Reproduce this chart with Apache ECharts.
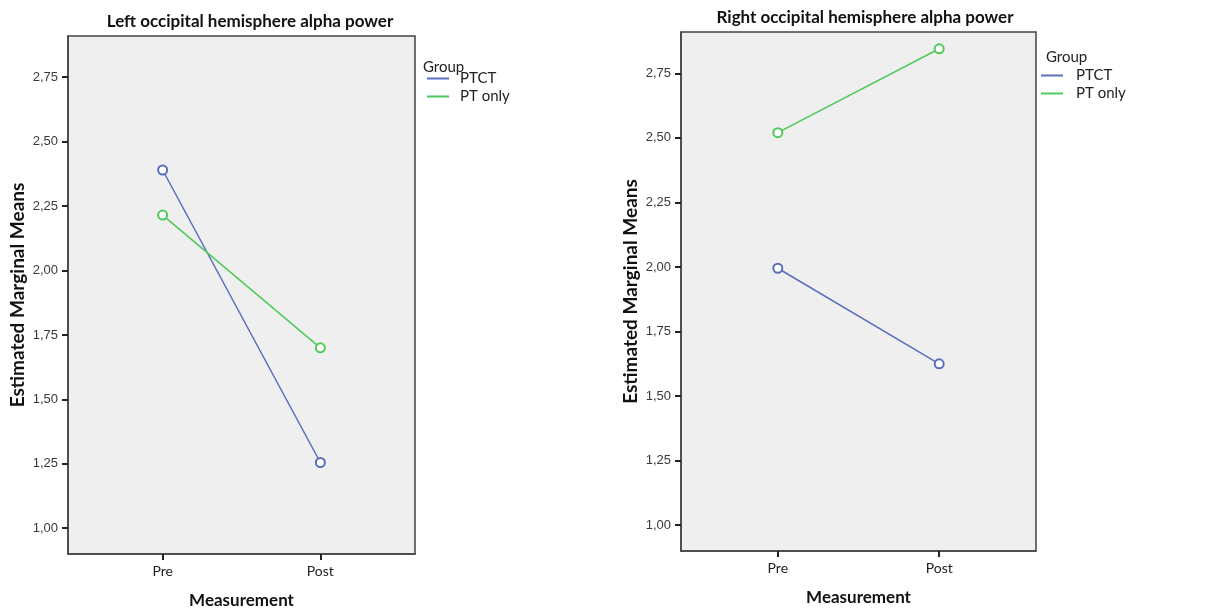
<!DOCTYPE html>
<html>
<head>
<meta charset="utf-8">
<script src="https://cdn.jsdelivr.net/npm/echarts@6/dist/echarts.min.js"></script>
<style>
  html, body { margin: 0; padding: 0; background: #fff; }
  #chart { width: 1218px; height: 614px; }
</style>
</head>
<body>
<div id="chart"></div>
<script>
const categories = ['Pre', 'Post']
const groups = ['PTCT', 'PT only']
const leftPTCT = [2.39, 1.255]
const leftPTonly = [2.215, 1.70]
const rightPTCT = [1.995, 1.625]
const rightPTonly = [2.52, 2.845]
const yTicks = [1.0, 1.25, 1.5, 1.75, 2.0, 2.25, 2.5, 2.75]

const blue = '#5a6dbf'
const green = '#4fc95a'
const titleFont = 'Lato'
const tickFont = 'Liberation Sans'

const toPoints = (vals) => categories.map((c, i) => [i, vals[i]])

function xAxis(gridIndex, nameGap) {
  return {
    gridIndex,
    type: 'value',
    min: -0.6,
    max: 1.6,
    name: 'Measurement',
    nameLocation: 'middle',
    nameGap,
    nameTextStyle: { fontFamily: titleFont, fontWeight: 'bold', fontSize: 17, color: '#111' },
    axisLine: { show: true, onZero: false, lineStyle: { color: '#444', width: 1.5 } },
    axisTick: { show: true, customValues: [0, 1], length: 6, lineStyle: { color: '#222', width: 2 } },
    axisLabel: {
      customValues: [0, 1],
      formatter: (v) => categories[Math.round(v)],
      fontFamily: titleFont, fontSize: 14, color: '#222', margin: 10,
    },
    splitLine: { show: false },
  }
}

function yAxis(gridIndex) {
  return {
    gridIndex,
    type: 'value',
    min: 0.9,
    max: 2.91,
    name: 'Estimated Marginal Means',
    nameLocation: 'middle',
    nameGap: 41,
    nameTextStyle: { fontFamily: titleFont, fontWeight: 'bold', fontSize: 19, color: '#111' },
    axisLine: { show: true, onZero: false, lineStyle: { color: '#444', width: 1.5 } },
    axisTick: { show: true, customValues: yTicks, length: 6, lineStyle: { color: '#222', width: 2 } },
    axisLabel: {
      customValues: yTicks,
      formatter: (v) => v.toFixed(2).replace('.', ','),
      fontFamily: tickFont, fontSize: 13, color: '#3a3a3a', margin: 10,
    },
    splitLine: { show: false },
  }
}

function line(name, vals, color, idx) {
  return {
    name,
    type: 'line',
    xAxisIndex: idx,
    yAxisIndex: idx,
    data: toPoints(vals),
    symbol: 'emptyCircle',
    symbolSize: 9,
    color,
    lineStyle: { color, width: 1.5 },
    itemStyle: { color, borderWidth: 1.5 },
    emphasis: { disabled: true },
  }
}

const legendBase = {
  orient: 'vertical',
  data: groups,
  icon: 'rect',
  padding: 0,
  itemWidth: 22,
  itemHeight: 2,
  itemGap: 3,
}

const legendText = (gap) => ({ fontFamily: titleFont, fontSize: 15, color: '#222', padding: [0, 0, 0, gap] })
const groupText = { fontFamily: titleFont, fontWeight: 'normal', fontSize: 15, color: '#222' }

const chart = echarts.init(document.getElementById('chart'))

chart.setOption({
  animation: false,
  backgroundColor: '#fff',
  title: [
    { text: 'Left occipital hemisphere alpha power', left: 245, top: 8, textAlign: 'center',
      textStyle: { fontFamily: titleFont, fontWeight: 'bold', fontSize: 17, color: '#111' } },
    { text: 'Right occipital hemisphere alpha power', left: 860, top: 4, textAlign: 'center',
      textStyle: { fontFamily: titleFont, fontWeight: 'bold', fontSize: 17, color: '#111' } },
    { text: 'Group', left: 418, top: 55, textStyle: groupText },
    { text: 'Group', left: 1041, top: 45, textStyle: groupText },
  ],
  legend: [
    { ...legendBase, left: 427, top: 71, textStyle: legendText(6) },
    { ...legendBase, left: 1041, top: 68, textStyle: legendText(8) },
  ],
  grid: [
    { left: 68, top: 36, width: 347, height: 519, show: true, backgroundColor: '#efefef', borderColor: '#444', borderWidth: 1.5 },
    { left: 681, top: 32, width: 355, height: 519, show: true, backgroundColor: '#efefef', borderColor: '#444', borderWidth: 1.5 },
  ],
  xAxis: [xAxis(0, 38), xAxis(1, 38)],
  yAxis: [yAxis(0), yAxis(1)],
  series: [
    line('PTCT', leftPTCT, blue, 0),
    line('PT only', leftPTonly, green, 0),
    line('PTCT', rightPTCT, blue, 1),
    line('PT only', rightPTonly, green, 1),
  ],
})
</script>
</body>
</html>
